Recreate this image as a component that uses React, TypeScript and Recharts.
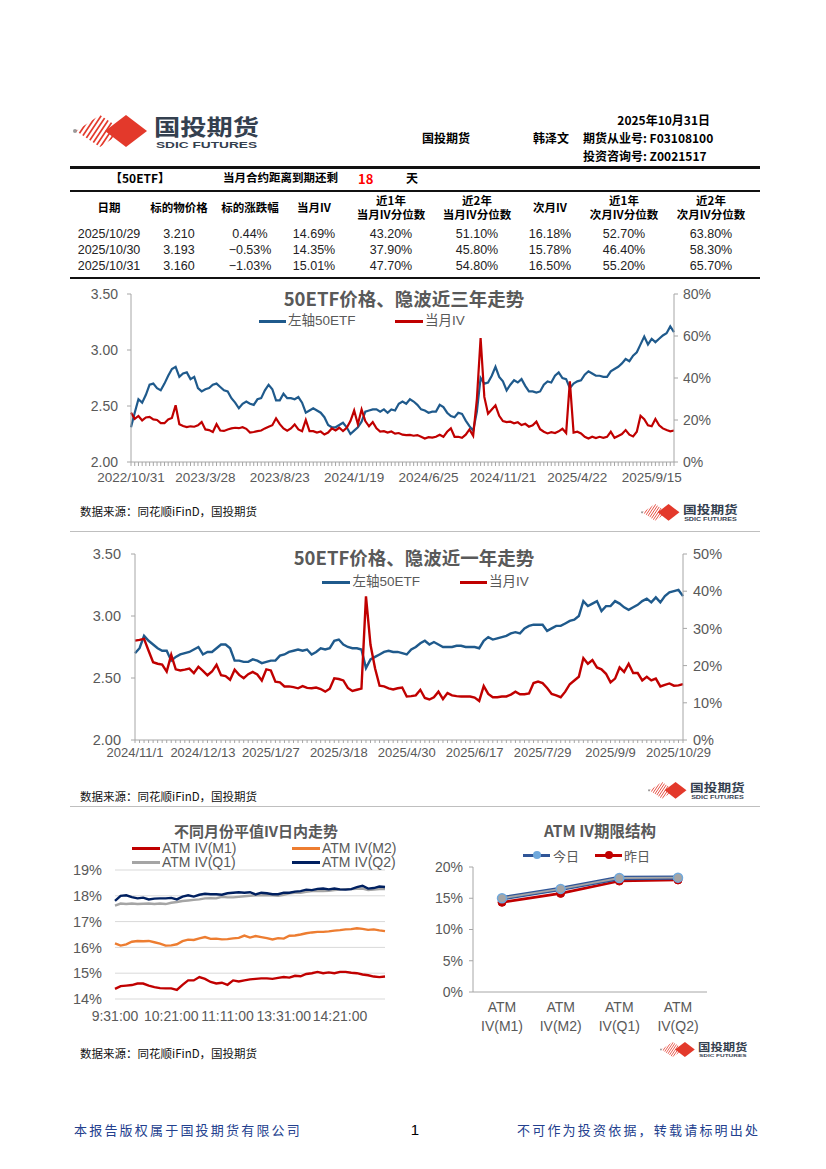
import React from "react";
import { LineChart, Line, XAxis, YAxis, CartesianGrid } from "recharts";

const FONT = "'Liberation Sans', Arial, 'Noto Sans CJK SC', sans-serif";
const CJK = "'Noto Sans CJK SC', 'Liberation Sans', sans-serif";
const GRAY = "#595959";
const AXIS = "#A6A6A6";
const BLUE = "#1F5A8C";
const RED = "#C00000";

// ---- table ----
const tableHead: string[][] = [
  ["日期"],
  ["标的物价格"],
  ["标的涨跌幅"],
  ["当月IV"],
  ["近1年", "当月IV分位数"],
  ["近2年", "当月IV分位数"],
  ["次月IV"],
  ["近1年", "次月IV分位数"],
  ["近2年", "次月IV分位数"],
];
const tableRows: string[][] = [
  ["2025/10/29", "3.210", "0.44%", "14.69%", "43.20%", "51.10%", "16.18%", "52.70%", "63.80%"],
  ["2025/10/30", "3.193", "−0.53%", "14.35%", "37.90%", "45.80%", "15.78%", "46.40%", "58.30%"],
  ["2025/10/31", "3.160", "−1.03%", "15.01%", "47.70%", "54.80%", "16.50%", "55.20%", "65.70%"],
];
const colX = [109, 179, 250, 314, 391, 477, 550, 624, 711];

// ---- 3 year chart (weekly samples) ----
const labels3y = ["2022/10/31", "2023/3/28", "2023/8/23", "2024/1/19", "2024/6/25", "2024/11/21", "2025/4/22", "2025/9/15"];
const etf3y = [
  2.31, 2.44, 2.56, 2.53, 2.60, 2.69, 2.70, 2.66, 2.64, 2.70,
  2.77, 2.83, 2.85, 2.76, 2.79, 2.80, 2.74, 2.76, 2.66, 2.63,
  2.65, 2.66, 2.69, 2.70, 2.67, 2.64, 2.63, 2.57, 2.53, 2.48,
  2.52, 2.54, 2.52, 2.51, 2.56, 2.57, 2.64, 2.69, 2.65, 2.55,
  2.55, 2.61, 2.57, 2.57, 2.56, 2.58, 2.53, 2.44, 2.46, 2.48,
  2.46, 2.44, 2.40, 2.33, 2.31, 2.31, 2.33, 2.35, 2.31, 2.25,
  2.28, 2.31, 2.36, 2.45, 2.46, 2.47, 2.47, 2.45, 2.47, 2.44,
  2.47, 2.46, 2.52, 2.54, 2.52, 2.56, 2.54, 2.51, 2.47, 2.46,
  2.44, 2.45, 2.45, 2.51, 2.49, 2.44, 2.41, 2.40, 2.44, 2.43,
  2.37, 2.32, 2.28, 2.45, 2.75, 2.70, 2.71, 2.77, 2.85, 2.76,
  2.72, 2.64, 2.69, 2.73, 2.71, 2.74, 2.68, 2.63, 2.63, 2.62,
  2.63, 2.69, 2.72, 2.71, 2.77, 2.80, 2.75, 2.74, 2.66, 2.70,
  2.72, 2.73, 2.78, 2.81, 2.79, 2.77, 2.77, 2.76, 2.76, 2.81,
  2.83, 2.85, 2.88, 2.92, 2.90, 2.95, 2.98, 3.05, 3.12, 3.05,
  3.10, 3.07, 3.10, 3.13, 3.15, 3.21, 3.16,
];
const iv3y = [
  23.5, 20.5, 21.9, 19.8, 21.2, 21.5, 20.3, 20.0, 18.5, 18.5,
  20.3, 21.0, 27.0, 18.0, 17.1, 16.6, 17.0, 16.8, 17.5, 19.0,
  15.5, 15.2, 14.3, 18.0, 15.0, 14.8, 15.5, 16.0, 16.3, 16.1,
  16.6, 15.8, 14.0, 14.3, 14.7, 15.0, 16.0, 16.8, 17.5, 20.8,
  18.0, 16.0, 14.9, 16.0, 17.9, 15.5, 14.7, 20.0, 14.7, 14.7,
  14.0, 14.5, 13.1, 14.0, 16.0, 15.0, 16.3, 14.7, 16.3, 19.5,
  24.5, 18.0, 25.0, 19.5, 17.0, 19.0, 16.0, 14.5, 14.7, 14.0,
  14.5, 13.5, 13.8, 13.0, 12.8, 12.9, 12.5, 12.8, 12.0, 11.2,
  11.8, 11.6, 12.0, 13.0, 12.0, 14.4, 16.0, 12.0, 12.0, 11.5,
  13.0, 15.5, 12.5, 30.0, 59.0, 31.0, 23.0, 25.0, 27.0, 22.0,
  19.5, 19.0, 19.2, 18.4, 18.9, 17.6, 18.2, 16.8, 17.5, 19.2,
  15.6, 14.4, 13.6, 14.2, 13.8, 14.6, 15.8, 13.8, 38.4, 14.0,
  14.4, 13.6, 12.0, 11.2, 12.0, 11.4, 12.0, 11.5, 12.0, 14.4,
  11.5, 12.4, 13.3, 15.2, 13.0, 12.2, 14.4, 22.0, 20.4, 17.5,
  17.0, 20.5, 17.5, 16.0, 15.2, 14.6, 15.0,
];

// ---- 1 year chart (every second trading day) ----
const labels1y = ["2024/11/1", "2024/12/13", "2025/1/27", "2025/3/18", "2025/4/30", "2025/6/17", "2025/7/29", "2025/9/9", "2025/10/29"];
const etf1y = [
  2.70, 2.74, 2.84, 2.80, 2.77, 2.74, 2.72, 2.72, 2.64, 2.67,
  2.69, 2.70, 2.71, 2.73, 2.75, 2.69, 2.71, 2.71, 2.74, 2.77,
  2.77, 2.74, 2.64, 2.64, 2.63, 2.63, 2.65, 2.64, 2.62, 2.63,
  2.64, 2.64, 2.68, 2.69, 2.71, 2.72, 2.73, 2.72, 2.73, 2.69,
  2.71, 2.74, 2.73, 2.74, 2.80, 2.81, 2.77, 2.75, 2.74, 2.74,
  2.73, 2.58, 2.65, 2.67, 2.69, 2.71, 2.72, 2.71, 2.71, 2.70,
  2.69, 2.73, 2.75, 2.78, 2.80, 2.77, 2.79, 2.77, 2.75, 2.75,
  2.75, 2.76, 2.76, 2.75, 2.75, 2.75, 2.74, 2.80, 2.83, 2.81,
  2.82, 2.83, 2.84, 2.86, 2.87, 2.86, 2.90, 2.92, 2.93, 2.93,
  2.93, 2.88, 2.90, 2.92, 2.92, 2.94, 2.96, 2.97, 3.00, 3.12,
  3.08, 3.10, 3.12, 3.04, 3.08, 3.08, 3.12, 3.10, 3.07, 3.05,
  3.07, 3.09, 3.12, 3.14, 3.11, 3.15, 3.11, 3.16, 3.19, 3.20,
  3.21, 3.16,
];
const iv1y = [
  26.7, 26.9, 27.2, 24.0, 20.9, 20.5, 20.3, 18.4, 22.9, 19.0,
  18.7, 18.9, 19.2, 18.0, 19.7, 18.6, 17.4, 18.4, 20.2, 17.4,
  17.2, 16.2, 18.9, 17.5, 16.6, 17.7, 18.3, 17.6, 16.0, 19.0,
  18.7, 15.7, 15.5, 14.4, 14.4, 14.2, 13.9, 14.5, 14.0, 13.9,
  14.1, 13.7, 13.0, 13.8, 16.6, 16.4, 16.0, 14.0, 13.2, 13.5,
  13.8, 38.6, 25.6, 19.3, 14.6, 14.4, 13.9, 13.6, 13.9, 14.1,
  11.7, 11.8, 12.0, 13.5, 11.3, 10.9, 11.5, 13.0, 11.0, 12.6,
  12.0, 11.8, 11.7, 11.7, 11.7, 11.4, 10.5, 14.5, 12.4, 11.5,
  11.5, 11.7, 11.7, 12.2, 13.0, 12.3, 12.3, 12.5, 15.3, 15.7,
  15.3, 14.0, 12.4, 12.0, 11.5, 13.0, 15.0, 16.0, 17.0, 22.0,
  20.5, 21.5, 19.5, 19.0, 17.8, 15.5, 16.5, 19.5, 18.3, 20.5,
  18.0, 18.0, 16.0, 17.0, 16.0, 16.5, 14.4, 14.8, 15.2, 14.6,
  14.69, 15.01,
];

// ---- intraday ATM IV (5-minute samples) ----
const timeLabels = ["9:31:00", "10:21:00", "11:11:00", "13:31:00", "14:21:00"];
const ivM1 = [
  14.39, 14.50, 14.52, 14.54, 14.60, 14.60, 14.52, 14.46, 14.42, 14.41,
  14.41, 14.35, 14.55, 14.72, 14.72, 14.85, 14.78, 14.66, 14.60, 14.63,
  14.55, 14.72, 14.68, 14.72, 14.76, 14.78, 14.80, 14.80, 14.78, 14.82,
  14.85, 14.83, 14.90, 14.88, 14.97, 15.00, 15.05, 15.00, 15.03, 15.00,
  15.05, 15.05, 15.02, 15.00, 14.95, 14.92, 14.87, 14.85, 14.87,
];
const ivM2 = [
  16.16, 16.07, 16.12, 16.22, 16.25, 16.24, 16.25, 16.20, 16.15, 16.07,
  16.08, 16.12, 16.24, 16.30, 16.29, 16.35, 16.40, 16.33, 16.34, 16.31,
  16.32, 16.35, 16.37, 16.46, 16.38, 16.44, 16.40, 16.36, 16.31, 16.36,
  16.34, 16.45, 16.46, 16.50, 16.55, 16.58, 16.60, 16.60, 16.62, 16.65,
  16.67, 16.70, 16.71, 16.74, 16.72, 16.68, 16.70, 16.66, 16.63,
];
const ivQ1 = [
  17.62, 17.70, 17.68, 17.70, 17.68, 17.69, 17.70, 17.68, 17.70, 17.68,
  17.73, 17.76, 17.80, 17.82, 17.84, 17.86, 17.90, 17.91, 17.90, 17.96,
  17.94, 17.94, 17.96, 17.98, 18.00, 18.02, 18.02, 18.02, 18.02, 18.00,
  18.04, 18.10, 18.12, 18.12, 18.15, 18.18, 18.19, 18.18, 18.19, 18.22,
  18.24, 18.26, 18.26, 18.27, 18.28, 18.22, 18.24, 18.26, 18.26,
];
const ivQ2 = [
  17.80, 18.00, 18.02, 17.95, 17.90, 17.93, 17.86, 17.89, 17.90, 17.90,
  17.92, 17.86, 17.97, 18.02, 17.97, 18.04, 18.08, 18.06, 18.06, 18.04,
  18.10, 18.12, 18.14, 18.12, 18.14, 18.05, 18.12, 18.10, 18.06, 18.06,
  18.12, 18.12, 18.16, 18.18, 18.24, 18.22, 18.27, 18.28, 18.25, 18.28,
  18.25, 18.24, 18.26, 18.34, 18.39, 18.28, 18.30, 18.36, 18.34,
];

// ---- term structure ----
const termCats = ["ATM IV(M1)", "ATM IV(M2)", "ATM IV(Q1)", "ATM IV(Q2)"];
const termToday = [15.01, 16.5, 18.25, 18.3];
const termPrev = [14.35, 15.78, 17.75, 17.92];

const data3y = etf3y.map((v, i) => ({ i, etf: v, iv: iv3y[i] }));
const data1y = etf1y.map((v, i) => ({ i, etf: v, iv: iv1y[i] }));
const dataIntra = ivM1.map((v, i) => ({ i, m1: v, m2: ivM2[i], q1: ivQ1[i], q2: ivQ2[i] }));
const dataTerm = termCats.map((c, i) => ({ c, today: termToday[i], prev: termPrev[i] }));

function Txt({
  x, y, children, size = 12, weight = 400, color = "#000", anchor = "start", font = FONT, ls = 0,
}: {
  x: number; y: number; children: React.ReactNode; size?: number; weight?: number; color?: string;
  anchor?: "start" | "middle" | "end"; font?: string; ls?: number;
}) {
  const tx = anchor === "middle" ? "-50%" : anchor === "end" ? "-100%" : "0";
  return (
    <div
      style={{
        position: "absolute", left: x, top: y, transform: `translate(${tx}, -50%)`,
        fontSize: size, fontWeight: weight, color, fontFamily: font, whiteSpace: "nowrap",
        lineHeight: 1, letterSpacing: ls,
      }}
    >
      {children}
    </div>
  );
}

function Rule({ x, y, w, h, color }: { x: number; y: number; w: number; h: number; color: string }) {
  return <div style={{ position: "absolute", left: x, top: y, width: w, height: h, background: color }} />;
}

function Swatch({ x, y, w, color, dot }: { x: number; y: number; w: number; color: string; dot?: string }) {
  return (
    <>
      <Rule x={x} y={y - 1.5} w={w} h={3} color={color} />
      {dot && (
        <div
          style={{
            position: "absolute", left: x + w / 2 - 4, top: y - 4, width: 8, height: 8,
            borderRadius: 4, background: dot,
          }}
        />
      )}
    </>
  );
}

function Logo({ x, y, scale, id }: { x: number; y: number; scale: number; id: string }) {
  const stripes = [-24, -19, -14, -9, -4, 1, 6, 11, 16, 21, 26, 31, 36, 41, 46];
  return (
    <svg
      style={{ position: "absolute", left: x, top: y, overflow: "visible" }}
      width={188 * scale} height={38 * scale} viewBox="0 0 188 38"
    >
      <defs>
        <clipPath id={id}>
          <polygon points="3,18 27,2 51,18 27,34" />
        </clipPath>
      </defs>
      <circle cx={2} cy={18} r={2} fill="#9a9a9a" />
      <g clipPath={`url(#${id})`}>
        {stripes.map((s) => (
          <line key={s} x1={s} y1={36} x2={s + 24} y2={0} stroke="#E3392B" strokeWidth={1.7} />
        ))}
      </g>
      <polygon points="32,18 53,2 74,18 53,34" fill="#E3392B" />
      <text x={81} y={22} fontSize={22} fontWeight={700} fill="#34404F" textLength={105} lengthAdjust="spacingAndGlyphs" fontFamily={CJK}>
        国投期货
      </text>
      <text x={83} y={34.5} fontSize={8.5} fontWeight={700} fill="#34404F" textLength={101} lengthAdjust="spacingAndGlyphs" fontFamily={FONT}>
        SDIC FUTURES
      </text>
    </svg>
  );
}

const tickStyle = (size: number) => ({ fontSize: size, fill: GRAY, fontFamily: FONT });

function TermTick(props: any) {
  const { x, y, payload } = props;
  const [a, b] = String(payload.value).split(" ");
  return (
    <text x={x} y={y} textAnchor="middle" fill={GRAY} fontSize={14} fontFamily={FONT}>
      <tspan x={x} dy={20}>{a}</tspan>
      <tspan x={x} dy={18.5}>{b}</tspan>
    </text>
  );
}

function Chart3y() {
  const ticks = data3y.map((d) => d.i);
  return (
    <div style={{ position: "absolute", left: 70, top: 280 }}>
      <LineChart width={690} height={214} data={data3y} margin={{ top: 14, right: 36, bottom: 6, left: 0 }}>
        <XAxis
          dataKey="i" type="number" domain={[0, etf3y.length - 1]} ticks={ticks} interval={0}
          tickFormatter={(v: number) => (v % 20 === 0 ? labels3y[v / 20] ?? "" : "")}
          axisLine={{ stroke: AXIS }} tickLine={{ stroke: AXIS }} tickSize={4} tickMargin={6} height={26}
          tick={tickStyle(13.5)}
        />
        <YAxis
          yAxisId="l" domain={[2, 3.5]} ticks={[2, 2.5, 3, 3.5]} tickFormatter={(v: number) => v.toFixed(2)}
          width={61} axisLine={{ stroke: AXIS }} tickLine={{ stroke: AXIS }} tickSize={4} tickMargin={9}
          tick={tickStyle(14)}
        />
        <YAxis
          yAxisId="r" orientation="right" domain={[0, 80]} ticks={[0, 20, 40, 60, 80]}
          tickFormatter={(v: number) => `${v}%`} width={50} axisLine={{ stroke: AXIS }} tickLine={{ stroke: AXIS }}
          tickSize={4} tickMargin={5} tick={tickStyle(14)}
        />
        <Line yAxisId="l" dataKey="etf" stroke={BLUE} strokeWidth={2.2} dot={false} isAnimationActive={false} />
        <Line yAxisId="r" dataKey="iv" stroke={RED} strokeWidth={2.2} dot={false} isAnimationActive={false} />
      </LineChart>
    </div>
  );
}

function Chart1y() {
  const ticks = data1y.map((d) => d.i);
  return (
    <div style={{ position: "absolute", left: 70, top: 540 }}>
      <LineChart width={690} height={230} data={data1y} margin={{ top: 14, right: 32, bottom: 4, left: 0 }}>
        <XAxis
          dataKey="i" type="number" domain={[0, etf1y.length - 1]} ticks={ticks} interval={0}
          tickFormatter={(v: number) => (v % 15 === 0 ? labels1y[v / 15] ?? "" : "")}
          axisLine={{ stroke: AXIS }} tickLine={{ stroke: AXIS }} tickSize={3} tickMargin={5} height={26}
          tick={tickStyle(13)}
        />
        <YAxis
          yAxisId="l" domain={[2, 3.5]} ticks={[2, 2.5, 3, 3.5]} tickFormatter={(v: number) => v.toFixed(2)}
          width={65} axisLine={{ stroke: AXIS }} tickLine={{ stroke: AXIS }} tickSize={4} tickMargin={10}
          tick={tickStyle(14.5)}
        />
        <YAxis
          yAxisId="r" orientation="right" domain={[0, 50]} ticks={[0, 10, 20, 30, 40, 50]}
          tickFormatter={(v: number) => `${v}%`} width={45} axisLine={{ stroke: AXIS }} tickLine={{ stroke: AXIS }}
          tickSize={4} tickMargin={6} tick={tickStyle(14.5)}
        />
        <Line yAxisId="l" dataKey="etf" stroke={BLUE} strokeWidth={2.4} dot={false} isAnimationActive={false} />
        <Line yAxisId="r" dataKey="iv" stroke={RED} strokeWidth={2.4} dot={false} isAnimationActive={false} />
      </LineChart>
    </div>
  );
}

function ChartIntraday() {
  return (
    <div style={{ position: "absolute", left: 60, top: 860 }}>
      <LineChart width={330} height={175} data={dataIntra} margin={{ top: 10, right: 5, bottom: 6, left: 0 }}>
        <CartesianGrid vertical={false} stroke="#D9D9D9" />
        <XAxis
          dataKey="i" type="number" domain={[0, ivM1.length - 1]} ticks={[0, 10, 20, 30, 40]} interval={0}
          tickFormatter={(v: number) => timeLabels[v / 10] ?? ""}
          axisLine={false} tickLine={false} tickSize={0} tickMargin={12} height={30} tick={tickStyle(14)}
        />
        <YAxis
          domain={[14, 19]} ticks={[14, 15, 16, 17, 18, 19]} tickFormatter={(v: number) => `${v}%`}
          width={55} axisLine={false} tickLine={false} tickSize={0} tickMargin={13} tick={tickStyle(14.5)}
        />
        <Line dataKey="m1" stroke={RED} strokeWidth={2.4} dot={false} isAnimationActive={false} />
        <Line dataKey="m2" stroke="#ED7D31" strokeWidth={2.4} dot={false} isAnimationActive={false} />
        <Line dataKey="q1" stroke="#A5A5A5" strokeWidth={2.4} dot={false} isAnimationActive={false} />
        <Line dataKey="q2" stroke="#002060" strokeWidth={2.4} dot={false} isAnimationActive={false} />
      </LineChart>
    </div>
  );
}

function ChartTerm() {
  return (
    <div style={{ position: "absolute", left: 420, top: 855 }}>
      <LineChart width={300} height={195} data={dataTerm} margin={{ top: 12, right: 13, bottom: 6, left: 0 }}>
        <XAxis
          dataKey="c" interval={0} tick={(p: any) => <TermTick {...p} />} tickLine={false}
          axisLine={{ stroke: AXIS }} tickSize={0} tickMargin={0} height={52} padding={{ left: 29, right: 29 }}
        />
        <YAxis
          domain={[0, 20]} ticks={[0, 5, 10, 15, 20]} tickFormatter={(v: number) => `${v}%`} width={53}
          axisLine={{ stroke: AXIS }} tickLine={{ stroke: AXIS }} tickSize={4} tickMargin={6} tick={tickStyle(14)}
        />
        <Line
          dataKey="prev" stroke={RED} strokeWidth={2.6} isAnimationActive={false}
          dot={{ r: 4, fill: RED, stroke: RED, strokeWidth: 1 }}
        />
        <Line dataKey="today" stroke="#2F5597" strokeWidth={4.5} dot={false} isAnimationActive={false} />
        <Line
          dataKey="today" stroke="#A5A5A5" strokeWidth={2} isAnimationActive={false}
          dot={{ r: 4.5, fill: "#A5A5A5", stroke: "#6FA8DC", strokeWidth: 1.5 }}
        />
      </LineChart>
    </div>
  );
}

export default function App() {
  return (
    <div
      style={{
        position: "absolute", left: 0, top: 0, width: 826, height: 1169, background: "#fff",
        overflow: "hidden", fontFamily: FONT,
      }}
    >
      {/* header */}
      <Logo x={73} y={113} scale={1} id="lg0" />
      <Txt x={710} y={120} anchor="end" weight={700} font={CJK}>2025年10月31日</Txt>
      <Txt x={422} y={138} weight={700} font={CJK}>国投期货</Txt>
      <Txt x={533} y={138} weight={700} font={CJK}>韩泽文</Txt>
      <Txt x={583} y={138} weight={700} font={CJK}>期货从业号: F03108100</Txt>
      <Txt x={583} y={155.5} weight={700} font={CJK}>投资咨询号: Z0021517</Txt>
      <Rule x={70} y={165.5} w={690} h={3} color="#111" />

      <Txt x={110} y={178} weight={700} font={CJK}>【50ETF】</Txt>
      <Txt x={223} y={178} weight={700} size={11.5} font={CJK}>当月合约距离到期还剩</Txt>
      <Txt x={358} y={178} weight={700} size={13} color="#FF0000" font={CJK}>18</Txt>
      <Txt x={406} y={178} weight={700} font={CJK}>天</Txt>
      <Rule x={70} y={189.5} w={690} h={2} color="#111" />

      {tableHead.map((h, c) =>
        h.length === 1 ? (
          <Txt key={c} x={colX[c]} y={208} anchor="middle" weight={700} size={11.5} font={CJK}>{h[0]}</Txt>
        ) : (
          <React.Fragment key={c}>
            <Txt x={colX[c]} y={201} anchor="middle" weight={700} size={11.5} font={CJK}>{h[0]}</Txt>
            <Txt x={colX[c]} y={215} anchor="middle" weight={700} size={11.5} font={CJK}>{h[1]}</Txt>
          </React.Fragment>
        )
      )}
      {tableRows.map((r, ri) =>
        r.map((v, c) => (
          <Txt key={`${ri}-${c}`} x={colX[c]} y={234 + ri * 16} anchor="middle" size={12.5} color="#222">{v}</Txt>
        ))
      )}
      <Rule x={70} y={276.5} w={690} h={2} color="#111" />

      {/* chart 1 */}
      <Chart3y />
      <Txt x={404} y={298} anchor="middle" size={18.5} weight={700} color={GRAY} font={CJK}>50ETF价格、隐波近三年走势</Txt>
      <Swatch x={259} y={321} w={27} color={BLUE} />
      <Txt x={288} y={321} size={13.5} color={GRAY}>左轴50ETF</Txt>
      <Swatch x={395} y={321} w={28} color={RED} />
      <Txt x={425} y={321} size={13.5} color={GRAY}>当月IV</Txt>
      <Txt x={80} y={512} size={11.5} color="#111" font={CJK}>数据来源：同花顺iFinD，国投期货</Txt>
      <Logo x={641} y={503} scale={0.52} id="lg1" />
      <Rule x={70} y={531} w={690} h={1} color="#BFBFBF" />

      {/* chart 2 */}
      <Chart1y />
      <Txt x={414} y={557} anchor="middle" size={18.5} weight={700} color={GRAY} font={CJK}>50ETF价格、隐波近一年走势</Txt>
      <Swatch x={322} y={582} w={28} color={BLUE} />
      <Txt x={352.5} y={582} size={13.5} color={GRAY}>左轴50ETF</Txt>
      <Swatch x={459.5} y={582} w={27} color={RED} />
      <Txt x={489} y={582} size={13.5} color={GRAY}>当月IV</Txt>
      <Txt x={80} y={797} size={11.5} color="#111" font={CJK}>数据来源：同花顺iFinD，国投期货</Txt>
      <Logo x={648} y={781} scale={0.52} id="lg2" />
      <Rule x={70} y={806} w={690} h={1} color="#BFBFBF" />

      {/* chart 3 */}
      <ChartIntraday />
      <Txt x={256} y={830} anchor="middle" size={15} weight={700} color={GRAY} font={CJK}>不同月份平值IV日内走势</Txt>
      <Swatch x={132} y={848} w={28} color={RED} />
      <Txt x={162} y={848} size={14} color={GRAY}>ATM IV(M1)</Txt>
      <Swatch x={292} y={848} w={28} color="#ED7D31" />
      <Txt x={322} y={848} size={14} color={GRAY}>ATM IV(M2)</Txt>
      <Swatch x={132} y={862} w={28} color="#A5A5A5" />
      <Txt x={162} y={862} size={14} color={GRAY}>ATM IV(Q1)</Txt>
      <Swatch x={292} y={862} w={28} color="#002060" />
      <Txt x={322} y={862} size={14} color={GRAY}>ATM IV(Q2)</Txt>

      {/* chart 4 */}
      <ChartTerm />
      <Txt x={600} y={831} anchor="middle" size={15.5} weight={700} color={GRAY} font={CJK}>ATM IV期限结构</Txt>
      <Swatch x={523} y={855} w={27} color="#2F5597" dot="#6FA8DC" />
      <Txt x={553} y={855} size={13} color={GRAY} font={CJK}>今日</Txt>
      <Swatch x={595} y={855} w={27} color={RED} dot={RED} />
      <Txt x={624} y={855} size={13} color={GRAY} font={CJK}>昨日</Txt>

      <Txt x={80} y={1054} size={11.5} color="#111" font={CJK}>数据来源：同花顺iFinD，国投期货</Txt>
      <Logo x={660} y={1041} scale={0.47} id="lg3" />

      {/* footer */}
      <Txt x={74} y={1129} size={13} color="#23408E" font={CJK} ls={2.2}>本报告版权属于国投期货有限公司</Txt>
      <Txt x={415} y={1129} anchor="middle" size={15} color="#000">1</Txt>
      <Txt x={517} y={1129} size={13} color="#23408E" font={CJK} ls={2.2}>不可作为投资依据，转载请标明出处</Txt>
    </div>
  );
}
